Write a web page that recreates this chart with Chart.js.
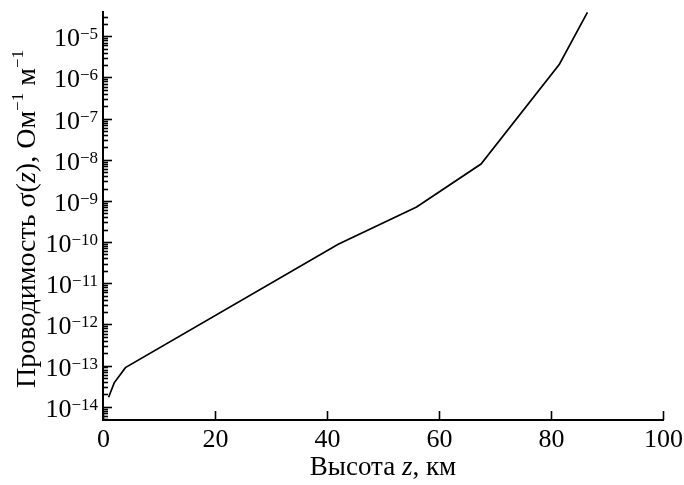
<!DOCTYPE html>
<html>
<head>
<meta charset="utf-8">
<script src="https://cdn.jsdelivr.net/npm/chart.js@4.4.1/dist/chart.umd.min.js"></script>
<style>
  html, body { margin: 0; padding: 0; background: #fff; }
  #wrap { width: 684px; height: 485px; }
</style>
</head>
<body>
<div id="wrap"><canvas id="sigmaChart"></canvas></div>
<script>
// altitude z, km
const heights = [1, 2, 4, 42, 56, 67.5, 81.5, 86.5];
// conductivity sigma(z), Ohm^-1 m^-1
const sigma = [1.7e-14, 3.8e-14, 8.9e-14, 8.9e-11, 7.1e-10, 7.9e-9, 2.1e-6, 3.8e-5];

const xTickValues = [0, 20, 40, 60, 80, 100];
const yDecades = [-14, -13, -12, -11, -10, -9, -8, -7, -6, -5];
const yMin = 4.75e-15;
const yMax = 3.9e-5;

const serif = '"Liberation Serif", "DejaVu Serif", serif';

// all tick marks of the log axis: 1..9 x 10^n inside the range
const yTickValues = [];
for (let d = -15; d <= -4; d++) {
    for (let m = 1; m <= 9; m++) {
        const v = Number(m + 'e' + d);
        if (v >= yMin && v <= yMax) yTickValues.push(v);
    }
}

// draw a line of text made of pieces (normal / italic / superscript), centred on x=0
function drawPieces(ctx, pieces, size) {
    const fontFor = (p) => (p.italic ? 'italic ' : '') + (p.sup ? Math.round(size * 0.62) : size) + 'px ' + serif;
    let total = 0;
    pieces.forEach((p) => { ctx.font = fontFor(p); p.w = ctx.measureText(p.t).width; total += p.w; });
    let x = -total / 2;
    ctx.textAlign = 'left';
    ctx.textBaseline = 'alphabetic';
    pieces.forEach((p) => {
        ctx.font = fontFor(p);
        ctx.fillText(p.t, x, p.sup ? -size * 0.42 : 0);
        x += p.w;
    });
}

const axisDecor = {
    id: 'axisDecor',
    afterDraw(chart) {
        const { ctx, chartArea, scales: { x, y } } = chart;
        ctx.save();
        ctx.strokeStyle = '#000';
        ctx.fillStyle = '#000';
        ctx.lineWidth = 1.6;

        // inward tick marks on the y axis
        yTickValues.forEach((v) => {
            const py = Math.round(y.getPixelForValue(v)) + 0.5;
            const major = Math.abs(Math.log10(v) - Math.round(Math.log10(v))) < 1e-9;
            ctx.beginPath();
            ctx.moveTo(chartArea.left, py);
            ctx.lineTo(chartArea.left + (major ? 9 : 5), py);
            ctx.stroke();
        });
        // inward tick marks and labels on the x axis
        ctx.font = '26px ' + serif;
        ctx.textAlign = 'center';
        ctx.textBaseline = 'alphabetic';
        xTickValues.forEach((v) => {
            const px = Math.round(x.getPixelForValue(v)) + 0.5;
            ctx.beginPath();
            ctx.moveTo(px, chartArea.bottom);
            ctx.lineTo(px, chartArea.bottom - 9);
            ctx.stroke();
            ctx.fillText(String(v), px, chartArea.bottom + 27);
        });

        // y tick labels 10^n
        yDecades.forEach((d) => {
            const py = y.getPixelForValue(Math.pow(10, d));
            const right = chartArea.left - 5;
            ctx.textBaseline = 'alphabetic';
            ctx.textAlign = 'right';
            ctx.font = '17px ' + serif;
            const expText = '\u2212' + Math.abs(d);
            const ew = ctx.measureText(expText).width;
            ctx.fillText(expText, right, py + 3);
            ctx.font = '26px ' + serif;
            ctx.fillText('10', right - ew, py + 10);
        });

        // y axis title
        ctx.save();
        ctx.translate(35, (chartArea.top + chartArea.bottom) / 2 + 3);
        ctx.rotate(-Math.PI / 2);
        drawPieces(ctx, [
            { t: 'Проводимость σ(' },
            { t: 'z', italic: true },
            { t: '), Ом' },
            { t: '\u22121', sup: true },
            { t: ' м' },
            { t: '\u22121', sup: true }
        ], 28);
        ctx.restore();

        // x axis title
        ctx.save();
        ctx.translate((chartArea.left + chartArea.right) / 2, 475);
        drawPieces(ctx, [
            { t: 'Высота ' },
            { t: 'z', italic: true },
            { t: ', км' }
        ], 27);
        ctx.restore();

        ctx.restore();
    }
};

const ctx = document.getElementById('sigmaChart').getContext('2d');
new Chart(ctx, {
    type: 'line',
    data: {
        datasets: [{
            data: heights.map((h, i) => ({ x: h, y: sigma[i] })),
            borderColor: '#000',
            borderWidth: 1.7,
            pointRadius: 0,
            tension: 0,
            fill: false
        }]
    },
    options: {
        responsive: true,
        maintainAspectRatio: false,
        animation: false,
        layout: { padding: { top: 12, right: 21, left: 0, bottom: 0 } },
        plugins: {
            legend: { display: false },
            tooltip: { enabled: false }
        },
        scales: {
            x: {
                type: 'linear',
                min: 0,
                max: 100,
                afterBuildTicks: (scale) => { scale.ticks = xTickValues.map((v) => ({ value: v })); },
                afterFit: (scale) => { scale.height = 65; },
                grid: { display: true, drawOnChartArea: false, drawTicks: false },
                border: { display: true, color: '#000', width: 2 },
                ticks: { display: false }
            },
            y: {
                type: 'logarithmic',
                min: yMin,
                max: yMax,
                afterBuildTicks: (scale) => { scale.ticks = yTickValues.map((v) => ({ value: v })); },
                afterFit: (scale) => { scale.width = 103; },
                grid: { display: true, drawOnChartArea: false, drawTicks: false },
                border: { display: true, color: '#000', width: 2 },
                ticks: { display: false }
            }
        }
    },
    plugins: [axisDecor]
});
</script>
</body>
</html>
